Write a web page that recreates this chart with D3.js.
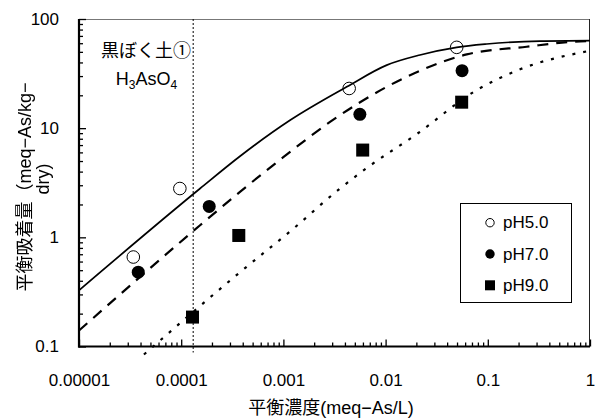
<!DOCTYPE html>
<html><head><meta charset="utf-8">
<script src="https://cdn.jsdelivr.net/npm/d3@7"></script>
<style>
body{margin:0;background:#fff;}
text{font-family:"Liberation Sans","Noto Sans CJK JP",sans-serif;fill:#000;}
</style></head><body>
<svg id="chart" width="595" height="419"></svg>
<script>
// Axis ticks
const xMajor = [1e-5, 1e-4, 1e-3, 1e-2, 1e-1, 1];
const xMajorLabels = ["0.00001", "0.0001", "0.001", "0.01", "0.1", "1"];
const yMajor = [0.1, 1, 10, 100];
const yMajorLabels = ["0.1", "1", "10", "100"];

// Measured equilibrium points (concentration meq-As/L, adsorbed meq-As/kg-dry)
const seriesNames = ["pH5.0", "pH7.0", "pH9.0"];
const conc_pH5 = [3.4e-5, 9.7e-5, 4.4e-3, 0.0496];
const ads_pH5  = [0.66, 2.8, 23.1, 55];
const conc_pH7 = [3.8e-5, 1.88e-4, 5.6e-3, 0.056];
const ads_pH7  = [0.48, 1.92, 13.4, 33.6];
const conc_pH9 = [1.29e-4, 3.66e-4, 5.97e-3, 0.0555];
const ads_pH9  = [0.186, 1.04, 6.3, 17.3];

// Isotherm fit curves
const fitConc_pH5 = [1e-5, 1.53e-4, 3.76e-4, 1.16e-3, 4.17e-3, 0.01026, 0.0217, 0.0496, 0.0975, 0.324, 1];
const fitAds_pH5  = [0.327, 2.8, 5.53, 11.8, 23.9, 37.8, 46.8, 55.0, 59.0, 62.8, 63.5];
const fitConc_pH7 = [1e-5, 1.53e-4, 3.76e-4, 9.98e-4, 2.86e-3, 0.01026, 0.0217, 0.0622, 0.24, 0.687, 1];
const fitAds_pH7  = [0.14, 1.29, 2.61, 5.42, 11.4, 23.9, 33.6, 47.4, 55.7, 61.9, 62.8];
const fitConc_pH9 = [4.32e-5, 3.62e-4, 1.25e-3, 3.58e-3, 6.78e-3, 0.0201, 0.0778, 0.2066, 1];
const fitAds_pH9  = [0.0845, 0.465, 1.20, 2.80, 4.42, 8.81, 22.3, 34.6, 51.2];

// Reference concentration marked by a vertical dotted line
const refConc = 1.31e-4;

const svg = d3.select("#chart");
const x = d3.scaleLog().domain([1e-5, 1]).range([79, 590]);
const y = d3.scaleLog().domain([0.1, 100]).range([346.5, 19]);
const X0 = x.range()[0], X1 = x.range()[1], Y0 = y.range()[0], Y1 = y.range()[1];

// greyscale filter for rotated text
const defs = svg.append("defs");
defs.append("filter").attr("id", "mono").attr("color-interpolation-filters", "sRGB")
  .append("feColorMatrix").attr("type", "saturate").attr("values", 0);

// plot frame (top/right)
svg.append("line").attr("x1", X0).attr("x2", X1).attr("y1", Y1 + 0.5).attr("y2", Y1 + 0.5)
  .attr("stroke", "#777").attr("stroke-width", 1);
svg.append("line").attr("x1", X1 - 0.5).attr("x2", X1 - 0.5).attr("y1", Y1).attr("y2", Y0)
  .attr("stroke", "#222").attr("stroke-width", 1);

const isMajor = v => xMajor.concat(yMajor).some(m => Math.abs(Math.log10(v) - Math.log10(m)) < 1e-6);

// bottom axis
const gx = svg.append("g").attr("transform", `translate(0,${Y0})`);
gx.append("g").call(d3.axisBottom(x).tickValues(x.ticks().filter(v => !isMajor(v)))
  .tickSize(-4).tickSizeOuter(0).tickFormat(""));
gx.append("g").call(d3.axisBottom(x).tickValues(xMajor).tickSize(-7).tickSizeOuter(0)
  .tickPadding(27).tickFormat((d, i) => xMajorLabels[i]));
gx.selectAll(".domain").remove();
gx.selectAll(".tick line").attr("stroke", "#000").attr("stroke-width", 1.3);
gx.selectAll("text").attr("font-size", 17).attr("font-family", "Liberation Sans");

// left axis
const gy = svg.append("g").attr("transform", `translate(${X0},0)`);
gy.append("g").call(d3.axisLeft(y).tickValues(y.ticks().filter(v => !isMajor(v)))
  .tickSize(-4).tickSizeOuter(0).tickFormat(""));
gy.append("g").call(d3.axisLeft(y).tickValues(yMajor).tickSize(-7).tickSizeOuter(0)
  .tickPadding(20).tickFormat((d, i) => yMajorLabels[i]));
gy.selectAll(".domain").remove();
gy.selectAll(".tick line").attr("stroke", "#000").attr("stroke-width", 1.3);
gy.selectAll("text").attr("font-size", 17).attr("font-family", "Liberation Sans");

// axis lines
svg.append("line").attr("x1", X0 - 1).attr("x2", X1).attr("y1", Y0).attr("y2", Y0)
  .attr("stroke", "#000").attr("stroke-width", 2.2);
svg.append("line").attr("x1", X0).attr("x2", X0).attr("y1", Y1).attr("y2", Y0 + 1)
  .attr("stroke", "#000").attr("stroke-width", 2.2);

// vertical reference line
svg.append("line").attr("x1", x(refConc)).attr("x2", x(refConc)).attr("y1", Y1).attr("y2", Y0 + 6)
  .attr("stroke", "#000").attr("stroke-width", 1).attr("stroke-dasharray", "2,2");

// fit curves
const line = d3.line().x(d => x(d[0])).y(d => y(d[1])).curve(d3.curveMonotoneX);
const zip = (a, b) => a.map((v, i) => [v, b[i]]);
svg.append("path").attr("d", line(zip(fitConc_pH5, fitAds_pH5)))
  .attr("fill", "none").attr("stroke", "#000").attr("stroke-width", 1.7);
svg.append("path").attr("d", line(zip(fitConc_pH7, fitAds_pH7)))
  .attr("fill", "none").attr("stroke", "#000").attr("stroke-width", 2.2).attr("stroke-dasharray", "11,8");
svg.append("path").attr("d", line(zip(fitConc_pH9, fitAds_pH9)))
  .attr("fill", "none").attr("stroke", "#000").attr("stroke-width", 2.2).attr("stroke-dasharray", "3,8");

// measured points
svg.append("g").selectAll("circle").data(zip(conc_pH5, ads_pH5)).join("circle")
  .attr("cx", d => x(d[0])).attr("cy", d => y(d[1])).attr("r", 6.3)
  .attr("fill", "none").attr("stroke", "#000").attr("stroke-width", 1);
svg.append("g").selectAll("circle").data(zip(conc_pH7, ads_pH7)).join("circle")
  .attr("cx", d => x(d[0])).attr("cy", d => y(d[1])).attr("r", 6.5).attr("fill", "#000");
svg.append("g").selectAll("rect").data(zip(conc_pH9, ads_pH9)).join("rect")
  .attr("x", d => x(d[0]) - 6.5).attr("y", d => y(d[1]) - 6.5).attr("width", 13).attr("height", 13)
  .attr("fill", "#000");

// annotation
svg.append("text").attr("x", 146).attr("y", 51).attr("text-anchor", "middle")
  .attr("dominant-baseline", "central").attr("font-size", 18).attr("font-family", "Noto Sans CJK JP")
  .text("黒ぼく土①");
const formula = svg.append("text").attr("x", 146.5).attr("y", 85).attr("text-anchor", "middle")
  .attr("font-size", 18);
[["H", false], ["3", true], ["AsO", false], ["4", true]].forEach(([t, sub]) => {
  const ts = formula.append("tspan").text(t);
  if (sub) ts.attr("font-size", 12).attr("dy", 4);
  else ts.attr("dy", formula.selectAll("tspan").size() > 1 ? -4 : 0);
});

// legend
const lg = svg.append("g");
lg.append("rect").attr("x", 460.5).attr("y", 203.5).attr("width", 111).attr("height", 99)
  .attr("fill", "#fff").attr("stroke", "#000").attr("stroke-width", 1);
const rows = [222.7, 254, 285.3];
lg.append("circle").attr("cx", 490).attr("cy", rows[0]).attr("r", 4.2)
  .attr("fill", "none").attr("stroke", "#000").attr("stroke-width", 1);
lg.append("circle").attr("cx", 490).attr("cy", rows[1]).attr("r", 4.7).attr("fill", "#000");
lg.append("rect").attr("x", 485).attr("y", rows[2] - 5).attr("width", 10).attr("height", 10).attr("fill", "#000");
seriesNames.forEach((n, i) => {
  lg.append("text").attr("x", 503).attr("y", rows[i]).attr("dominant-baseline", "central")
    .attr("font-size", 17).text(n);
});

// axis titles
svg.append("text").attr("x", 331).attr("y", 408).attr("text-anchor", "middle")
  .attr("dominant-baseline", "central").attr("font-size", 18).text("平衡濃度(meq−As/L)");
const yTitle = svg.append("g").attr("filter", "url(#mono)");
yTitle.append("text").attr("transform", "translate(25,187) rotate(-90)").attr("text-anchor", "middle")
  .attr("dominant-baseline", "central").attr("font-size", 18).text("平衡吸着量（meq−As/kg−");
yTitle.append("text").attr("transform", "translate(43,179) rotate(-90)").attr("text-anchor", "middle")
  .attr("dominant-baseline", "central").attr("font-size", 18).text("dry)");
</script>
</body></html>
